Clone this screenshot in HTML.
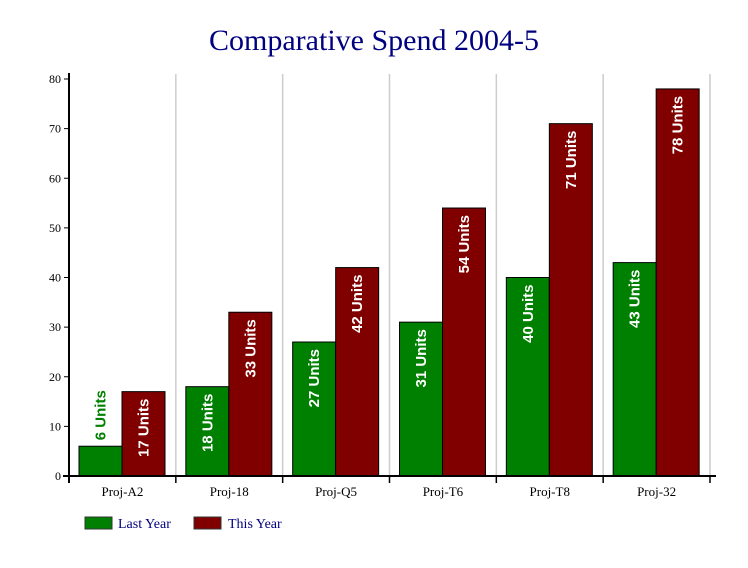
<!DOCTYPE html>
<html><head><meta charset="utf-8"><style>
body{margin:0;background:#fff}
svg{display:block}
</style></head><body>
<svg width="748" height="568" xmlns="http://www.w3.org/2000/svg">
<rect width="748" height="568" fill="#fff"/>
<text x="374" y="50" text-anchor="middle" font-family="Liberation Serif, serif" font-size="30" fill="#000080">Comparative Spend 2004-5</text>
<g id="grid"></g>
<g id="bars"></g>
<g id="axes"></g>
<g>
<rect x="85" y="517" width="27" height="12" fill="#008000" stroke="#333"/>
<text x="118" y="528" font-family="Liberation Serif, serif" font-size="14" fill="#000080">Last Year</text>
<rect x="194" y="517" width="27" height="12" fill="#800000" stroke="#333"/>
<text x="228" y="528" font-family="Liberation Serif, serif" font-size="14" fill="#000080">This Year</text>
</g>
</svg>
<script>
const categories=["Proj-A2","Proj-18","Proj-Q5","Proj-T6","Proj-T8","Proj-32"];
const lastYear=[6,18,27,31,40,43];
const thisYear=[17,33,42,54,71,78];
const yTicks=[0,10,20,30,40,50,60,70,80];
const NS="http://www.w3.org/2000/svg";
const x0=69,x1=710,y0=476,y1=79,yMax=80;
const cw=(x1-x0)/categories.length;
function ys(v){return y0-(v/yMax)*(y0-y1);}
function xs(i){return x0+i*cw;}
function mk(tag,attrs,parent){const e=document.createElementNS(NS,tag);for(const k in attrs)e.setAttribute(k,attrs[k]);parent.appendChild(e);return e;}
const grid=document.getElementById('grid'),bars=document.getElementById('bars'),axes=document.getElementById('axes');
for(let i=1;i<=categories.length;i++){
 const l=mk('line',{x1:xs(i),x2:xs(i),y1:y1-5,y2:y0,stroke:'#ccc','stroke-width':1.5},grid);
 
 
}
const bw=43;
function bar(i,v,off,color,name){
 const bx=xs(i)+10+off, top=ys(v);
 const r=mk('rect',{x:bx,y:top,width:bw,height:y0-top,fill:color,stroke:'#000','stroke-width':1},bars);
 
 
 const cx=bx+bw/2;
 const label=v+' Units';
 const estLen=label.length*8.6;
 let inside=(y0-top)>estLen+12;
 const ty=inside?top+7:top-6;
 const t=mk('text',{x:0,y:0,transform:`translate(${cx+5},${ty}) rotate(-90)`,'text-anchor':'end','font-family':'Liberation Sans, sans-serif','font-weight':'bold','font-size':15,fill:inside?'#fff':color},bars);
 if(!inside)t.setAttribute('text-anchor','start');
 t.textContent=label;
 
 
}
categories.forEach((c,i)=>{
 bar(i,lastYear[i],0,'#008000','bar-last-year-'+c.toLowerCase());
 bar(i,thisYear[i],bw,'#800000','bar-this-year-'+c.toLowerCase());
 const t=mk('text',{x:xs(i)+cw/2,y:496,'text-anchor':'middle','font-family':'Liberation Serif, serif','font-size':13,fill:'#000'},axes);
 t.textContent=c;
 
 
});
yTicks.forEach(v=>{
 const y=ys(v);
 const l=mk('line',{x1:x0-5,x2:x0,y1:y,y2:y,stroke:'#000','stroke-width':1},axes);
 
 
 const t=mk('text',{x:x0-8,y:y+4,'text-anchor':'end','font-family':'Liberation Serif, serif','font-size':12,fill:'#000'},axes);
 t.textContent=v;
 
 
});
for(let i=0;i<=categories.length;i++){
 const l=mk('line',{x1:xs(i),x2:xs(i),y1:y0,y2:y0+7,stroke:'#000','stroke-width':1.5},axes);
 
 
}
const ya=mk('line',{x1:x0,x2:x0,y1:y1-6,y2:y0+7,stroke:'#000','stroke-width':2},axes);


const xa=mk('line',{x1:x0-6,x2:x1+6,y1:y0,y2:y0,stroke:'#000','stroke-width':2},axes);


</script>
</body></html>
